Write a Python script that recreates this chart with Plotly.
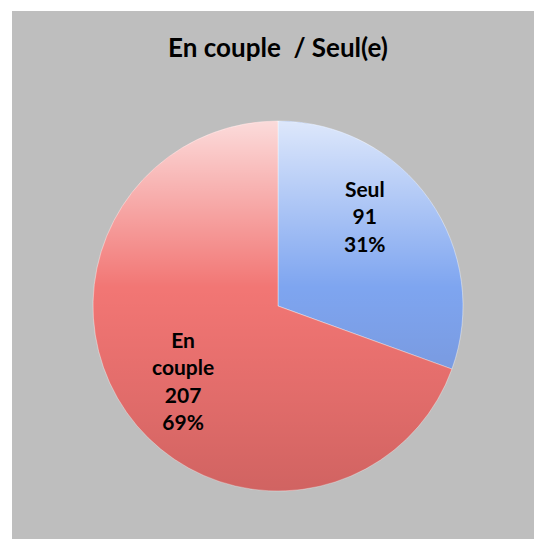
import base64
import plotly.graph_objects as go

labels = ["Seul", "En couple"]
label_lines = ["Seul", "En<br>couple"]
values = [91, 207]
colors = ["#7ea5f0", "#f27674"]
title_text = "En couple  / Seul(e)"

W, H = 534, 539
total = sum(values)

# pie placement (pixels)
PX0, PY0, D = 93, 121, 370

fig = go.Figure()
fig.add_trace(go.Pie(
    labels=labels,
    values=values,
    sort=False,
    direction="clockwise",
    rotation=0,
    marker=dict(colors=colors, line=dict(color="rgba(255,255,255,0.5)", width=0.8)),
    textinfo="none",
    hoverinfo="label+value+percent",
    showlegend=False,
    domain=dict(x=[PX0 / W, (PX0 + D) / W], y=[1 - (PY0 + D) / H, 1 - PY0 / H]),
))

# vertical light-to-dark shading overlay (style only)
svg = (
    '<svg xmlns="http://www.w3.org/2000/svg" width="370" height="370" viewBox="0 0 370 370">'
    '<defs><linearGradient id="g" x1="0" y1="0" x2="0" y2="1">'
    '<stop offset="0" stop-color="#ffffff" stop-opacity="0.74"/>'
    '<stop offset="0.45" stop-color="#ffffff" stop-opacity="0"/>'
    '<stop offset="0.45" stop-color="#400000" stop-opacity="0"/>'
    '<stop offset="1" stop-color="#200000" stop-opacity="0.16"/>'
    '</linearGradient></defs>'
    '<circle cx="185" cy="185" r="185" fill="url(#g)"/></svg>'
)
src = "data:image/svg+xml;base64," + base64.b64encode(svg.encode()).decode()

label_pos = [(365, 216), (183, 380)]
annotations = []
for lab, v, (px, py) in zip(label_lines, values, label_pos):
    pct = round(v / total * 100)
    annotations.append(dict(
        text=f"<b>{lab}<br>{v}<br>{pct}%</b>",
        x=px / W, y=1 - py / H, xref="paper", yref="paper",
        xanchor="center", yanchor="middle", showarrow=False, align="center",
        font=dict(family="Lato", size=21, color="black"),
    ))

fig.update_layout(
    width=W, height=H,
    margin=dict(l=0, t=0, r=0, b=0),
    paper_bgcolor="#bebebe",
    shapes=[
        dict(type="rect", xref="paper", yref="paper", x0=-0.01, x1=12 / W, y0=-0.01, y1=1.01,
             fillcolor="white", line=dict(width=0), layer="below"),
        dict(type="rect", xref="paper", yref="paper", x0=-0.01, x1=1.01, y0=1 - 11 / H, y1=1.01,
             fillcolor="white", line=dict(width=0), layer="below"),
    ],
    images=[dict(source=src, xref="paper", yref="paper", x=PX0 / W, y=1 - PY0 / H,
                 sizex=D / W, sizey=D / H, xanchor="left", yanchor="top",
                 sizing="stretch", layer="above")],
    annotations=annotations,
    title=dict(text="<b>" + title_text + "</b>", x=278 / W, xanchor="center",
               y=1 - 48 / H, yanchor="middle",
               font=dict(family="Lato", size=26, color="black")),
)

fig.write_html("out.html", config={"displayModeBar": False},
               post_script="document.body.style.margin='0';document.body.style.overflow='hidden';")
